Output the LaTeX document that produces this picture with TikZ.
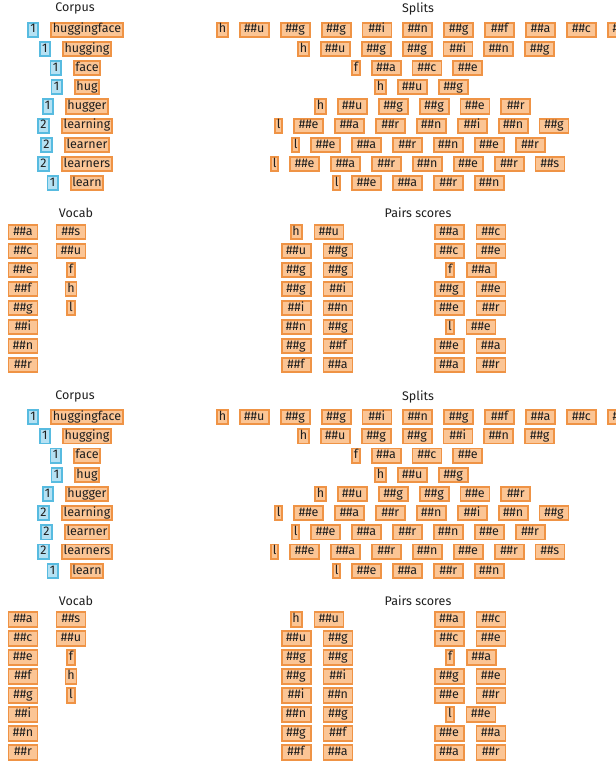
\documentclass[tikz,border=0pt]{standalone}
\usepackage{fontspec}
\setmainfont{Fira Sans}
\usepackage{xcolor}
\usetikzlibrary{positioning}

\definecolor{tokfill}{HTML}{FBC595}
\definecolor{tokline}{HTML}{EF9345}
\definecolor{cntfill}{HTML}{B5E1F3}
\definecolor{cntline}{HTML}{57BBE0}
\definecolor{ink}{HTML}{1E1E1E}

\begin{document}
\begin{tikzpicture}[x=1pt, y=-1pt, every node/.style={font=\fontsize{12.5}{14}\selectfont, text=ink},
  tok/.style={draw=tokline, fill=tokfill, line width=1.9pt, inner xsep=1.8pt, inner ysep=1.1pt, text height=9.2pt, text depth=2.8pt},
  subtok/.style={tok, minimum width=29pt},
  cnt/.style={tok, draw=cntline, fill=cntfill, inner xsep=2.4pt}]
\useasboundingbox (0,0) rectangle (616,766);

\foreach \p/\dy in {a/0, b/387.5} {
\begin{scope}[shift={(0,\dy)}]
% corpus
\node (\p-corpus) at (75,8.5) {Corpus};
\foreach \n/\w [count=\r] in {1/huggingface, 1/hugging, 1/face, 1/hug, 1/hugger, 2/learning, 2/learner, 2/learners, 1/learn} {
  \node[tok] (\p-w\r) at (87,{29.7+19.2*(\r-1)}) {\w};
  \node[cnt, left=11pt of \p-w\r] (\p-n\r) {\n};
}

% splits
\node (\p-splits) at (418,9) {Splits};
\foreach \first/\rest/\x [count=\r] in {h/{u,g,g,i,n,g,f,a,c,e}/216, h/{u,g,g,i,n,g}/297, f/{a,c,e}/351, h/{u,g}/374, h/{u,g,g,e,r}/314, l/{e,a,r,n,i,n,g}/274, l/{e,a,r,n,e,r}/291, l/{e,a,r,n,e,r,s}/270, l/{e,a,r,n}/332} {
  \node[tok, anchor=west] (\p-s\r-0) at (\x,{29.7+19.2*(\r-1)}) {\first};
  \foreach \t [count=\k, remember=\k as \lk (initially 0)] in \rest
    \node[subtok, right=10pt of \p-s\r-\lk] (\p-s\r-\k) {\#\#\t};
}

% vocab
\node (\p-vocab) at (76,213) {Vocab};
\foreach \t [count=\r] in {a,c,e,f,g,i,n,r}
  \node[subtok] (\p-v\r) at (23,{232+19*(\r-1)}) {\#\#\t};
\foreach \s/\t [count=\r] in {subtok/\#\#s, subtok/\#\#u, tok/f, tok/h, tok/l}
  \node[\s] (\p-u\r) at (71,{232+19*(\r-1)}) {\t};

% pairs scores
\node (\p-pairs) at (418,213) {Pairs scores};
\foreach \s/\a/\b/\dx [count=\r] in {tok/h/u/-9, subtok/\#\#u/g/0, subtok/\#\#g/g/0, subtok/\#\#g/i/0, subtok/\#\#i/n/0, subtok/\#\#n/g/0, subtok/\#\#g/f/0, subtok/\#\#f/a/0} {
  \coordinate (\p-pl\r) at ({317+\dx},{232+19*(\r-1)});
  \node[\s, left=5.5pt of \p-pl\r] (\p-pl\r-a) {\a};
  \node[subtok, right=5.5pt of \p-pl\r] (\p-pl\r-b) {\#\#\b};
}
\foreach \s/\a/\b/\dx [count=\r] in {subtok/\#\#a/c/0, subtok/\#\#c/e/0, tok/f/a/-9.5, subtok/\#\#g/e/0, subtok/\#\#e/r/0, tok/l/e/-10, subtok/\#\#e/a/0, subtok/\#\#a/r/0} {
  \coordinate (\p-pr\r) at ({470+\dx},{232+19*(\r-1)});
  \node[\s, left=5.5pt of \p-pr\r] (\p-pr\r-a) {\a};
  \node[subtok, right=5.5pt of \p-pr\r] (\p-pr\r-b) {\#\#\b};
}
\end{scope}
}
\end{tikzpicture}
\end{document}
